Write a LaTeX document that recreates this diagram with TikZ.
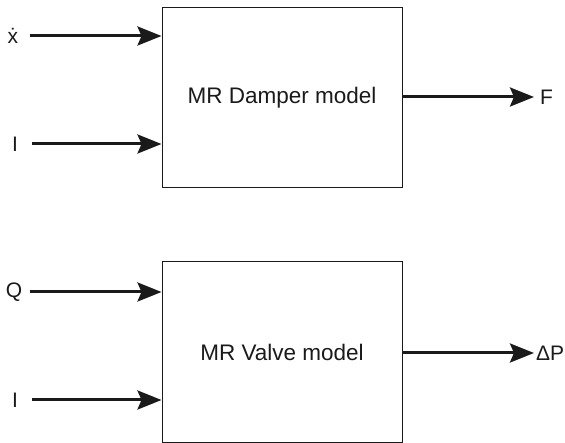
\documentclass[tikz,border=0pt]{standalone}
\usepackage{fontspec}
\setmainfont{Liberation Sans}
\usetikzlibrary{arrows.meta}
\definecolor{ink}{HTML}{1A1A1A}
\begin{document}
\begin{tikzpicture}[x=1pt,y=1pt,
  blk/.style={draw=ink, line width=1pt, minimum width=240pt, minimum height=180pt, inner sep=0pt, text=ink, font=\fontsize{22.5}{27}\selectfont},
  lbl/.style={inner sep=0pt, text=ink, font=\fontsize{21}{25}\selectfont},
  arr/.style={draw=ink, line width=3pt, -{Stealth[length=24pt,width=19pt,inset=4pt,fill=ink]}}]
\useasboundingbox (0,0) rectangle (565,-443);
\node[blk] (b1) at (282,-98) {MR Damper model};
\node[blk] (b2) at (282,-352) {MR Valve model};
% inputs box 1
\node[lbl] (xd) at (13,-36) {ẋ};
\node[lbl] (i1) at (15,-144) {I};
\coordinate (xs) at (30,-36);
\coordinate (is1) at (32,-144);
\draw[arr] (xs) -- (xs -| b1.west);
\draw[arr] (is1) -- (is1 -| b1.west);
% output box 1
\coordinate (fe) at (534,-97);
\node[lbl, anchor=west] (f) at (540,-97) {F};
\draw[arr] (fe -| b1.east) -- (fe);
% inputs box 2
\node[lbl] (q) at (14,-292) {Q};
\node[lbl] (i2) at (15,-400) {I};
\coordinate (qs) at (30,-292);
\coordinate (is2) at (32,-400);
\draw[arr] (qs) -- (qs -| b2.west);
\draw[arr] (is2) -- (is2 -| b2.west);
% output box 2
\coordinate (pe) at (534,-353);
\node[lbl, anchor=west] (dp) at (536,-353) {ΔP};
\draw[arr] (pe -| b2.east) -- (pe);
\end{tikzpicture}
\end{document}
